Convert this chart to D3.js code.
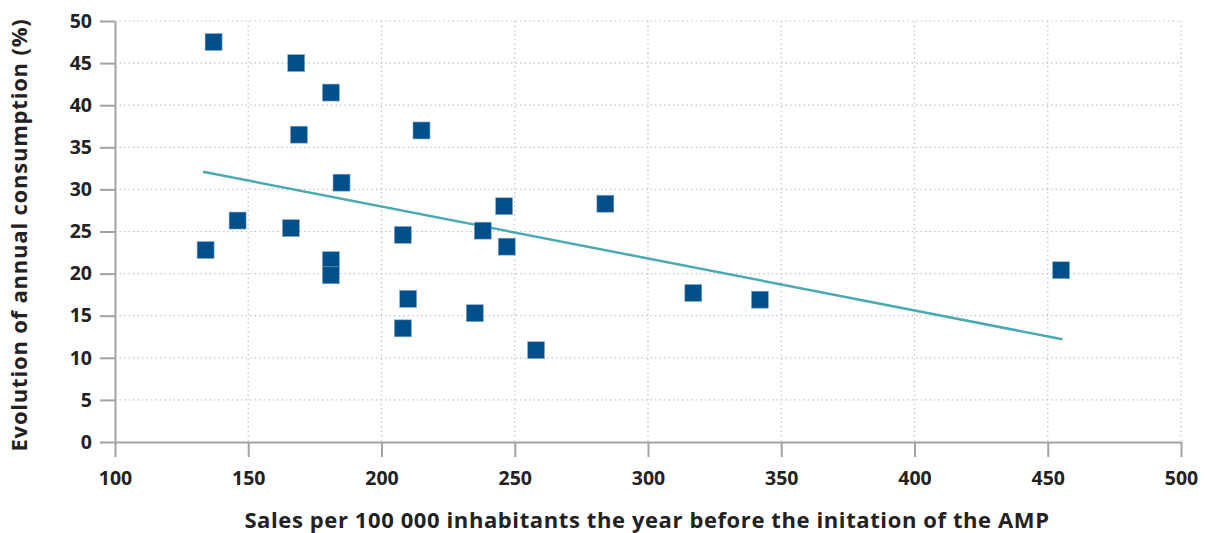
<!DOCTYPE html>
<html>
<head>
<meta charset="utf-8">
<script src="https://cdn.jsdelivr.net/npm/d3@7"></script>
<style>
  html, body { margin: 0; padding: 0; background: #fff; }
  svg { display: block; font-family: "Open Sans", sans-serif; }
</style>
</head>
<body>
<div id="chart"></div>
<script>
// sales per 100 000 inhabitants (x) and evolution of consumption in % (y)
const salesValues = [137, 168, 181, 169, 215, 185, 146, 166, 134, 181, 181,
  208, 210, 208, 238, 246, 247, 235, 258, 284, 317, 342, 455];
const evolutionValues = [47.5, 45.0, 41.5, 36.5, 37.0, 30.8, 26.3, 25.4, 22.8, 21.6, 19.8,
  24.6, 17.0, 13.5, 25.1, 28.0, 23.2, 15.3, 10.9, 28.3, 17.7, 16.9, 20.4];

// trend line end points
const trendX = [133, 455.5];
const trendY = [32.1, 12.2];

const xTicks = [100, 150, 200, 250, 300, 350, 400, 450, 500];
const yTicks = [0, 5, 10, 15, 20, 25, 30, 35, 40, 45, 50];

const xTitle = 'Sales per 100 000 inhabitants the year before the initation of the AMP';
const yTitle = 'Evolution of annual consumption (%)';

const width = 1205, height = 533;
const margin = { top: 21, right: 24, bottom: 91, left: 115 };
const innerW = width - margin.left - margin.right;
const innerH = height - margin.top - margin.bottom;

const svg = d3.select('#chart').append('svg')
  .attr('width', width)
  .attr('height', height);

const g = svg.append('g')
  .attr('transform', `translate(${margin.left},${margin.top})`);

const x = d3.scaleLinear().domain([100, 500]).range([0, innerW]);
const y = d3.scaleLinear().domain([0, 50]).range([innerH, 0]);

// dotted grid
g.append('g').selectAll('line')
  .data(yTicks.filter(d => d > 0))
  .enter().append('line')
  .attr('x1', 0).attr('x2', innerW)
  .attr('y1', d => y(d)).attr('y2', d => y(d))
  .attr('stroke', '#c4c4c4')
  .attr('stroke-width', 1.2)
  .attr('stroke-dasharray', '1.5,3');

g.append('g').selectAll('line')
  .data(xTicks.filter(d => d > 100))
  .enter().append('line')
  .attr('x1', d => x(d)).attr('x2', d => x(d))
  .attr('y1', 0).attr('y2', innerH)
  .attr('stroke', '#c4c4c4')
  .attr('stroke-width', 1.2)
  .attr('stroke-dasharray', '1.5,3');

// axes
const xAxis = g.append('g')
  .attr('transform', `translate(0,${innerH})`)
  .call(d3.axisBottom(x).tickValues(xTicks).tickSize(15).tickPadding(14).tickSizeOuter(0));

const yAxis = g.append('g')
  .call(d3.axisLeft(y).tickValues(yTicks).tickSize(15).tickPadding(8).tickSizeOuter(0));

[xAxis, yAxis].forEach(a => {
  a.select('.domain').attr('stroke', '#a3a3a3').attr('stroke-width', 2);
  a.selectAll('.tick line').attr('stroke', '#a3a3a3').attr('stroke-width', 2);
  a.selectAll('.tick text')
    .attr('fill', '#222')
    .style('font-size', '19.5px')
    .style('font-weight', 'bold')
    .style('font-family', '"Open Sans", sans-serif');
});

// trend line
const line = d3.line()
  .x(d => x(d[0]))
  .y(d => y(d[1]));

g.append('path')
  .datum(d3.zip(trendX, trendY))
  .attr('fill', 'none')
  .attr('stroke', '#4aaab0')
  .attr('stroke-width', 2.5)
  .attr('d', line);

// square markers
const size = 17;
g.selectAll('.pt')
  .data(d3.zip(salesValues, evolutionValues))
  .enter().append('rect')
  .attr('class', 'pt')
  .attr('x', d => x(d[0]) - size / 2)
  .attr('y', d => y(d[1]) - size / 2)
  .attr('width', size)
  .attr('height', size)
  .attr('fill', '#004f8a')
  .attr('stroke', '#8fb0cc')
  .attr('stroke-width', 0.6);

// axis titles
svg.append('text')
  .attr('x', 647)
  .attr('y', 528)
  .attr('text-anchor', 'middle')
  .attr('fill', '#222')
  .style('font-size', '22px')
  .style('font-weight', 'bold')
  .style('letter-spacing', '0.6px')
  .text(xTitle);

svg.append('text')
  .attr('transform', `translate(27,${235}) rotate(-90)`)
  .attr('text-anchor', 'middle')
  .attr('fill', '#222')
  .style('font-size', '22px')
  .style('font-weight', 'bold')
  .style('letter-spacing', '0.8px')
  .text(yTitle);
</script>
</body>
</html>
